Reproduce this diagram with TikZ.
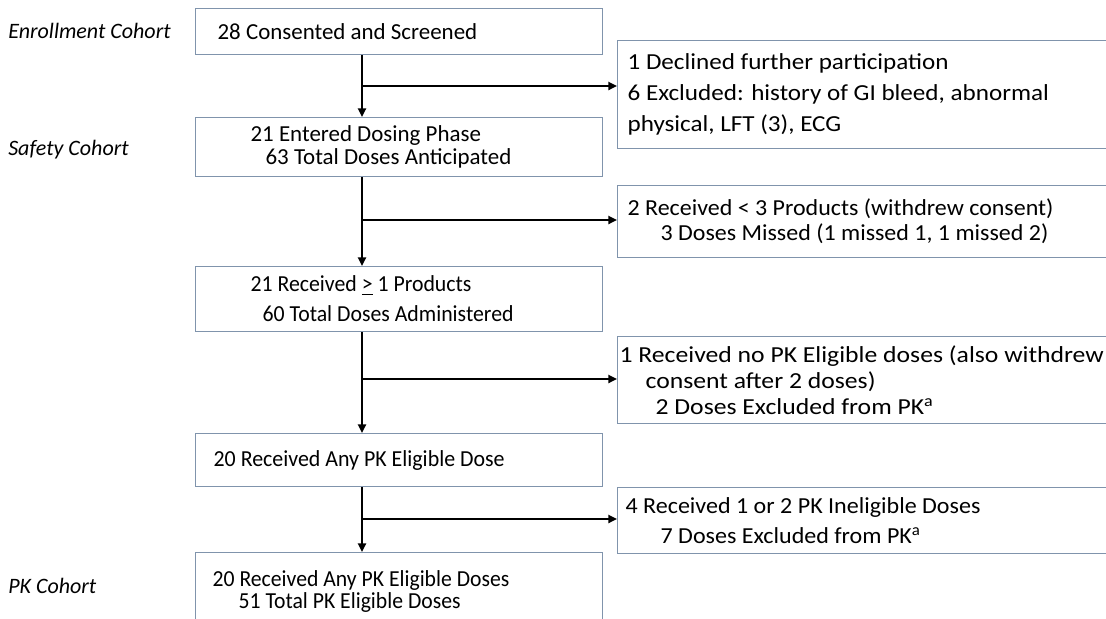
\documentclass[tikz,border=0pt]{standalone}
\usepackage{fontspec}
\setmainfont{Carlito}
\usetikzlibrary{arrows.meta}
\definecolor{boxline}{RGB}{128,148,172}
\begin{document}
\begin{tikzpicture}[x=0.75pt,y=-0.75pt,
  box/.style={draw=boxline,line width=0.9pt,anchor=north west,align=left,inner ysep=2pt,text=black,
    execute at begin node={\spaceskip=0pt\xspaceskip=0pt\relax}},
  leading/.style 2 args={font=\fontsize{17.2}{#2}\selectfont\addfontfeatures{FakeStretch=#1}},
  flow/.style={line width=1.8pt,-{Triangle[length=6.5pt,width=6pt]}},
  cohort/.style={anchor=west,inner sep=0pt,font=\fontsize{16.5}{20}\selectfont\itshape}]
\useasboundingbox (0,0) rectangle (1106,618);
\clip (0,0) rectangle (1106,618);
\node[cohort] (enrollment) at (8,31) {Enrollment Cohort};
\node[cohort] (safety) at (8,150) {Safety Cohort};
\node[cohort] (pk) at (8,586) {PK Cohort};
\node[box,leading={1.0}{22.5},inner xsep=16.5pt,text width=272.25pt,minimum height=34.5pt] (enrolled) at (195,8) {28 Consented and Screened};
\node[box,leading={1.0}{17.25},inner xsep=41.25pt,text width=222.75pt,minimum height=44.25pt] (dosing) at (195,117) {21 Entered Dosing Phase\\\hspace*{11.25pt}63 Total Doses Anticipated};
\node[box,leading={0.95}{22.5},inner xsep=41.25pt,text width=222.75pt,minimum height=48.75pt] (received) at (195,266) {21 Received \underline{>} 1 Products\\\hspace*{9pt}60 Total Doses Administered};
\node[box,leading={0.955}{22.5},inner xsep=13.5pt,text width=278.25pt,minimum height=39.75pt] (anydose) at (195,433) {20 Received Any PK Eligible Dose};
\node[box,leading={0.946}{16.5},inner xsep=12.75pt,text width=279.75pt,minimum height=58.5pt] (pkdoses) at (195,552) {20 Received Any PK Eligible Doses\\\hspace*{19.5pt}51 Total PK Eligible Doses};
\node[box,leading={1.095}{23.25},inner xsep=7.5pt,text width=375pt,minimum height=81pt] (declined) at (617,40) {1 Declined further participation\\6 Excluded: history of GI bleed, abnormal\\physical, LFT (3), ECG};
\node[box,leading={1.045}{18.75},inner xsep=7.5pt,text width=375pt,minimum height=54pt] (missed) at (617,185) {2 Received < 3 Products (withdrew consent)\\\hspace*{24.75pt}3 Doses Missed (1 missed 1, 1 missed 2)};
\node[box,leading={1.12}{19.5},inner xsep=1.5pt,text width=387pt,minimum height=65.25pt] (noelig) at (617,336) {1 Received no PK Eligible doses (also withdrew\\\hspace*{19.5pt}consent after 2 doses)\\\hspace*{27pt}2 Doses Excluded from PK\textsuperscript{a}};
\node[box,leading={1.048}{22.5},inner xsep=6pt,text width=378pt,minimum height=49.5pt] (inelig) at (617,487) {4 Received 1 or 2 PK Ineligible Doses\\\hspace*{26.25pt}7 Doses Excluded from PK\textsuperscript{a}};
\coordinate (split1) at (362,86);
\coordinate (split2) at (362,220);
\coordinate (split3) at (362,379);
\coordinate (split4) at (362,519);
\draw[flow] (enrolled.south -| split1) -- (dosing.north -| split1);
\draw[flow] (dosing.south -| split2) -- (received.north -| split2);
\draw[flow] (received.south -| split3) -- (anydose.north -| split3);
\draw[flow] (anydose.south -| split4) -- (pkdoses.north -| split4);
\draw[flow] (split1) -- (split1 -| declined.west);
\draw[flow] (split2) -- (split2 -| missed.west);
\draw[flow] (split3) -- (split3 -| noelig.west);
\draw[flow] (split4) -- (split4 -| inelig.west);
\end{tikzpicture}
\end{document}
